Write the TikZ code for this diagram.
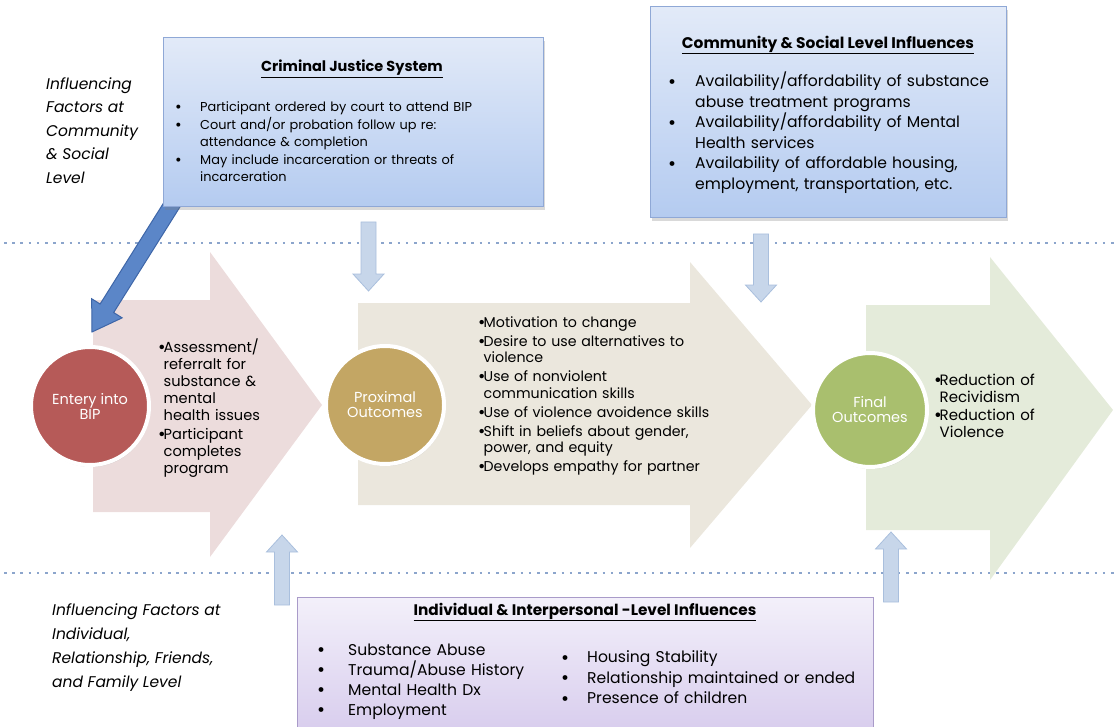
\documentclass[tikz,border=0pt]{standalone}
\usepackage{fontspec}
\setmainfont{Poppins}
\usetikzlibrary{calc,shadows}
\definecolor{dotblue}{HTML}{8CA5CC}
\definecolor{pinkarr}{HTML}{ECDCDC}
\definecolor{beigearr}{HTML}{EBE7DD}
\definecolor{greenarr}{HTML}{E4EBDA}
\definecolor{entryred}{HTML}{B65A58}
\definecolor{proxgold}{HTML}{C3A664}
\definecolor{finalgreen}{HTML}{A9BF6E}
\definecolor{boxtop}{HTML}{E2EAF8}
\definecolor{boxbot}{HTML}{B4CBF0}
\definecolor{boxline}{HTML}{8FA8D6}
\definecolor{purtop}{HTML}{F3F0FA}
\definecolor{purbot}{HTML}{D5C9EC}
\definecolor{purline}{HTML}{A99BC9}
\definecolor{smallfill}{HTML}{C7D6EA}
\definecolor{smallline}{HTML}{A9BFDD}
\definecolor{bigfill}{HTML}{5B86C8}
\definecolor{bigline}{HTML}{3E66A8}
\def\blockarr[#1](#2)(#3)(#4:#5:#6){\coordinate (hb) at ($(#3)!#6!(#2)$);
	\draw[#1] ($(#2)!#4!90:(#3)$) -- ($(hb)!#4!90:(#3)$) -- ($(hb)!#5!90:(#3)$) -- (#3)
	-- ($(hb)!#5!-90:(#3)$) -- ($(hb)!#4!-90:(#3)$) -- ($(#2)!#4!-90:(#3)$) -- cycle;}
\newcommand\bitem[2]{\par\noindent\hangindent=#1\hangafter=1\makebox[#1][l]{\raisebox{-0.09em}{\scalebox{1.25}{\textbullet}}}#2\par}

\begin{document}
\begin{tikzpicture}[x=1pt,y=-1pt,
	infobox/.style={shade, top color=boxtop, bottom color=boxbot, draw=boxline, line width=1pt,
		drop shadow={shadow xshift=2pt, shadow yshift=-3pt, opacity=0.3}},
	purbox/.style={shade, top color=purtop, bottom color=purbot, draw=purline, line width=1pt},
	stage/.style={circle, draw=white, line width=4pt, minimum size=118pt, inner sep=0pt,
		text=white, align=center, font=\fontsize{14.5}{15}\selectfont,
		drop shadow={shadow xshift=1pt, shadow yshift=-2pt, opacity=0.25}},
	smallarr/.style={fill=smallfill, draw=smallline, line width=0.8pt},
	txt/.style={inner sep=0pt, anchor=north west, align=left}]
	%%%%% START %%%%%
	\useasboundingbox (0,0) rectangle (1115,727);
	
	% level separators
	\draw[dotblue, line width=2.6pt, dash pattern=on 2.6pt off 5.6pt] (4,243) -- (1115,243);
	\draw[dotblue, line width=2.6pt, dash pattern=on 2.6pt off 5.6pt] (4,573) -- (1115,573);
	
	% stage chevrons
	\fill[pinkarr] (93,300) -- (210,300) -- (210,252) -- (322,405) -- (210,557) -- (210,512) -- (93,512) -- cycle;
	\fill[beigearr] (358,303) -- (690,303) -- (690,262) -- (812,405) -- (690,548) -- (690,505) -- (358,505) -- cycle;
	\fill[greenarr] (866,305) -- (990,305) -- (990,257) -- (1113,410) -- (990,580) -- (990,530) -- (866,530) -- cycle;
	
	% influence boxes
	\coordinate (cjsout) at (200,160);
	\coordinate (entryin) at (92,332);
	\blockarr[fill=bigfill, draw=bigline, line width=1pt](cjsout)(entryin)(8pt:18pt:28pt)
	
	\node[infobox, minimum width=380pt, minimum height=169pt] (cjs) at (353,122.5) {};
	\node[infobox, minimum width=356pt, minimum height=211pt] (comm) at (828,112.5) {};
	\node[purbox, minimum width=576pt, minimum height=150pt] (indiv) at (585,672) {};
	
	\node[font=\bfseries\fontsize{14.5}{16}\selectfont] (cjstitle) at (352,69) {\underline{Criminal Justice System}};
	\node[txt, text width=360pt, font=\fontsize{12.9}{17.5}\selectfont] (cjslist) at (175,94) {%
		\bitem{25pt}{Participant ordered by court to attend BIP}
		\bitem{25pt}{Court and/or probation follow up re:\newline attendance \& completion}
		\bitem{25pt}{May include incarceration or threats of\newline incarceration}};
	
	\node[font=\bfseries\fontsize{15.4}{17}\selectfont] (commtitle) at (828,45) {\underline{Community \& Social Level Influences}};
	\node[txt, text width=340pt, font=\fontsize{15.6}{20.5}\selectfont] (commlist) at (668,66) {%
		\bitem{27pt}{Availability/affordability of substance\newline abuse treatment programs}
		\bitem{27pt}{Availability/affordability of Mental\newline Health services}
		\bitem{27pt}{Availability of affordable housing,\newline employment, transportation, etc.}};
	
	\node[font=\bfseries\fontsize{15.3}{17}\selectfont] (indivtitle) at (585,612) {\underline{Individual \& Interpersonal -Level Influences}};
	\node[txt, text width=240pt, font=\fontsize{15.6}{20}\selectfont] (indivleft) at (317,635) {%
		\bitem{31pt}{Substance Abuse}
		\bitem{31pt}{Trauma/Abuse History}
		\bitem{31pt}{Mental Health Dx}
		\bitem{31pt}{Employment}};
	\node[txt, text width=320pt, font=\fontsize{15.6}{20.5}\selectfont] (indivright) at (561,642) {%
		\bitem{26pt}{Housing Stability}
		\bitem{26pt}{Relationship maintained or ended}
		\bitem{26pt}{Presence of children}};
	
	% side labels
	\node[txt, font=\itshape\fontsize{15.5}{23.5}\selectfont] (commlevel) at (46,77)
		{Influencing\\Factors at\\Community\\\& Social\\Level};
	\node[txt, font=\itshape\fontsize{15.5}{24.3}\selectfont] (indivlevel) at (52,603)
		{Influencing Factors at\\Individual,\\Relationship, Friends,\\and Family Level};
	
	% small influence arrows
	\coordinate (cjsdown) at (368.5,222);
	\coordinate (proxtop) at (368.5,291);
	\coordinate (commdown) at (761,234);
	\coordinate (finaltop) at (761,302);
	\coordinate (indivup1) at (282,605);
	\coordinate (entrybot) at (282,535);
	\coordinate (indivup2) at (891,602);
	\coordinate (finalbot) at (891,532);
	\blockarr[smallarr](cjsdown)(proxtop)(7.5pt:15.5pt:17pt)
	\blockarr[smallarr](commdown)(finaltop)(7.5pt:15.5pt:17pt)
	\blockarr[smallarr](indivup1)(entrybot)(7.5pt:15.5pt:17pt)
	\blockarr[smallarr](indivup2)(finalbot)(7.5pt:15.5pt:17pt)
	
	% stages
	\node[stage, fill=entryred] (entry) at (90,406) {Entery into\\BIP};
	\node[stage, fill=proxgold] (prox) at (385,405) {Proximal\\Outcomes};
	\node[stage, fill=finalgreen, minimum size=114pt] (final) at (870,410) {Final\\Outcomes};
	
	\node[txt, text width=140pt, font=\fontsize{14.6}{17}\selectfont] (entrylist) at (158,333) {%
		\setlength\parskip{2pt}%
		\bitem{5.5pt}{Assessment/\newline referralt for\newline substance \&\newline mental\newline health issues}
		\bitem{5.5pt}{Participant\newline completes\newline program}};
	\node[txt, text width=260pt, font=\fontsize{14.2}{16.5}\selectfont] (proxlist) at (478,308) {%
		\setlength\parskip{2.5pt}%
		\bitem{5.5pt}{Motivation to change}
		\bitem{5.5pt}{Desire to use alternatives to\newline violence}
		\bitem{5.5pt}{Use of nonviolent\newline communication skills}
		\bitem{5.5pt}{Use of violence avoidence skills}
		\bitem{5.5pt}{Shift in beliefs about gender,\newline power, and equity}
		\bitem{5.5pt}{Develops empathy for partner}};
	\node[txt, text width=140pt, font=\fontsize{15}{17}\selectfont] (finallist) at (934,367) {%
		\setlength\parskip{1pt}%
		\bitem{5.5pt}{Reduction of\newline Recividism}
		\bitem{5.5pt}{Reduction of\newline Violence}};
	
	%%%%% END %%%%%
\end{tikzpicture}
\end{document}
